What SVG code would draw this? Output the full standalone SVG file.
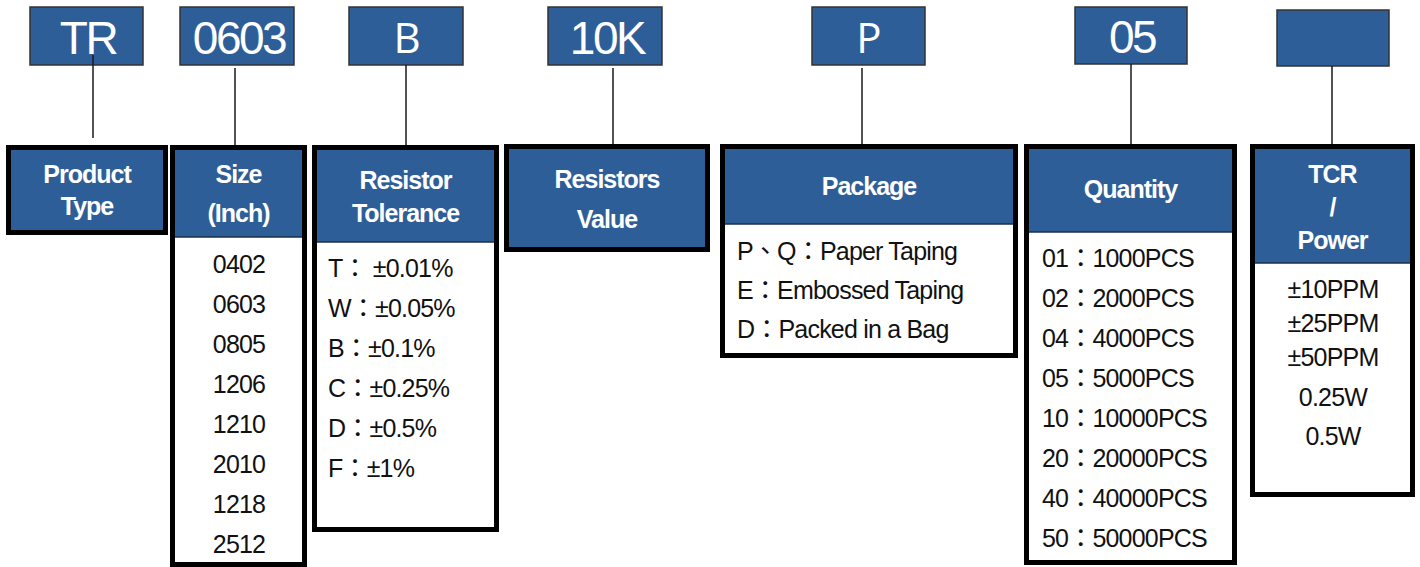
<svg xmlns="http://www.w3.org/2000/svg" width="1420" height="567" viewBox="0 0 1420 567">
<style>
.top{fill:#2E5E97;stroke:#333;stroke-width:1.5}
.frame{fill:#fff;stroke:#000;stroke-width:5}
.bframe{fill:#2E5E97;stroke:#000;stroke-width:5}
.hdr{fill:#2E5E97}
.sep{stroke:#1b2f4a;stroke-width:1.5}
.conn{stroke:#1a1a1a;stroke-width:1.5;fill:none}
.tt{font-family:"Liberation Sans",Arial,sans-serif;font-size:46px;fill:#fff;text-anchor:middle;letter-spacing:-2.5px}
.tg{font-family:"Open Sans","Liberation Sans",sans-serif;font-size:42px;fill:#fff;text-anchor:middle}
.ht{font-family:"Liberation Sans",Arial,sans-serif;font-weight:bold;font-size:25px;fill:#fff;text-anchor:middle;letter-spacing:-1px}
.it{font-family:"Liberation Sans",Arial,"Noto Sans CJK TC",sans-serif;font-size:25px;fill:#111;letter-spacing:-0.8px}
.c{text-anchor:middle}
</style>
<rect width="1420" height="567" fill="#fff"/>

<g id="code-TR"><rect class="top" x="30" y="7" width="113" height="58"/><text class="tt" x="88" y="54">TR</text></g>
<g id="code-0603"><rect class="top" x="180" y="7" width="114" height="58"/><text class="tt" x="239" y="54">0603</text></g>
<g id="code-B"><rect class="top" x="349" y="7" width="114" height="58"/><text class="tg" x="407" y="53">B</text></g>
<g id="code-10K"><rect class="top" x="548" y="7" width="114" height="58"/><text class="tt" x="607" y="54">10K</text></g>
<g id="code-P"><rect class="top" x="812" y="7" width="113" height="58"/><text class="tg" x="869" y="53">P</text></g>
<g id="code-05"><rect class="top" x="1075" y="7" width="112" height="57"/><text class="tt" x="1132" y="53">05</text></g>
<g id="code-TCR"><rect class="top" x="1277" y="10" width="112" height="56"/></g>

<g id="connectors">
<line class="conn" x1="93" y1="55" x2="93" y2="138"/>
<line class="conn" x1="235" y1="68" x2="235" y2="152"/>
<line class="conn" x1="406" y1="65" x2="406" y2="145"/>
<line class="conn" x1="613" y1="68" x2="613" y2="152"/>
<line class="conn" x1="862" y1="68" x2="862" y2="152"/>
<line class="conn" x1="1131" y1="64" x2="1131" y2="145"/>
<line class="conn" x1="1332" y1="66" x2="1332" y2="145"/>
</g>

<g id="product-type">
<rect class="bframe" x="8.5" y="147.5" width="157" height="85"/>
<text class="ht" x="87" y="183">Product</text>
<text class="ht" x="87" y="215">Type</text>
</g>

<g id="size">
<rect class="frame" x="172.5" y="147.5" width="132" height="417"/>
<rect class="hdr" x="175" y="150" width="127" height="87"/>
<line class="sep" x1="175" y1="237" x2="302" y2="237"/>
<text class="ht" x="238.5" y="183">Size</text>
<text class="ht" x="238.5" y="222">(Inch)</text>
<text class="it c" x="239" y="273">0402</text>
<text class="it c" x="239" y="313">0603</text>
<text class="it c" x="239" y="353">0805</text>
<text class="it c" x="239" y="393">1206</text>
<text class="it c" x="239" y="433">1210</text>
<text class="it c" x="239" y="473">2010</text>
<text class="it c" x="239" y="513">1218</text>
<text class="it c" x="239" y="553">2512</text>
</g>

<g id="tolerance">
<rect class="frame" x="314.5" y="147.5" width="182" height="382"/>
<rect class="hdr" x="317" y="150" width="177" height="92"/>
<line class="sep" x1="317" y1="242" x2="494" y2="242"/>
<text class="ht" x="405.5" y="189">Resistor</text>
<text class="ht" x="405.5" y="222">Tolerance</text>
<text class="it" x="328" y="277">T： ±0.01%</text>
<text class="it" x="328" y="317">W：±0.05%</text>
<text class="it" x="328" y="357">B：±0.1%</text>
<text class="it" x="328" y="397">C：±0.25%</text>
<text class="it" x="328" y="437">D：±0.5%</text>
<text class="it" x="328" y="477">F：±1%</text>
</g>

<g id="resistors-value">
<rect class="bframe" x="506.5" y="146.5" width="201" height="103"/>
<text class="ht" x="607" y="188">Resistors</text>
<text class="ht" x="607" y="228">Value</text>
</g>

<g id="package">
<rect class="frame" x="722.5" y="146.5" width="293" height="209"/>
<rect class="hdr" x="725" y="149" width="288" height="75"/>
<line class="sep" x1="725" y1="224" x2="1013" y2="224"/>
<text class="ht" x="869" y="195">Package</text>
<text class="it" x="737" y="260">P、Q：Paper Taping</text>
<text class="it" x="737" y="299">E：Embossed Taping</text>
<text class="it" x="737" y="338">D：Packed in a Bag</text>
</g>

<g id="quantity">
<rect class="frame" x="1026.5" y="146.5" width="208" height="416"/>
<rect class="hdr" x="1029" y="149" width="203" height="83"/>
<line class="sep" x1="1029" y1="232" x2="1232" y2="232"/>
<text class="ht" x="1130.5" y="198">Quantity</text>
<text class="it" x="1042" y="267">01：1000PCS</text>
<text class="it" x="1042" y="307">02：2000PCS</text>
<text class="it" x="1042" y="347">04：4000PCS</text>
<text class="it" x="1042" y="387">05：5000PCS</text>
<text class="it" x="1042" y="427">10：10000PCS</text>
<text class="it" x="1042" y="467">20：20000PCS</text>
<text class="it" x="1042" y="507">40：40000PCS</text>
<text class="it" x="1042" y="547">50：50000PCS</text>
</g>

<g id="tcr-power">
<rect class="frame" x="1252.5" y="146.5" width="160" height="348"/>
<rect class="hdr" x="1255" y="149" width="155" height="114"/>
<line class="sep" x1="1255" y1="263" x2="1410" y2="263"/>
<text class="ht" x="1332.5" y="183">TCR</text>
<text class="ht" x="1332.5" y="216">/</text>
<text class="ht" x="1332.5" y="249">Power</text>
<text class="it c" x="1333" y="298">±10PPM</text>
<text class="it c" x="1333" y="332">±25PPM</text>
<text class="it c" x="1333" y="366">±50PPM</text>
<text class="it c" x="1333" y="406">0.25W</text>
<text class="it c" x="1333" y="445">0.5W</text>
</g>
</svg>
